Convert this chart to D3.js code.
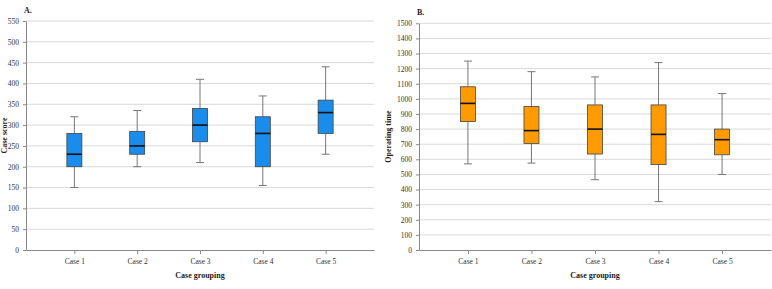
<!DOCTYPE html>
<html>
<head>
<meta charset="utf-8">
<script src="https://cdn.jsdelivr.net/npm/d3@7"></script>
<style>
  body { margin: 0; background: #fff; }
  svg text { font-family: "Liberation Serif", "Times New Roman", serif; }
  .grid line { stroke: #d9d9d9; stroke-width: 1; }
  .axis path, .axis line { stroke: #888; }
  .axis text { font-size: 7.5px; fill: #333; }
</style>
</head>
<body>
<div id="chart-area"></div>
<script>
// case groups shared by both panels
let cases = ["Case 1", "Case 2", "Case 3", "Case 4", "Case 5"];

// panel A: case score  (min, q1, median, q3, max)
let scoreMin = [150, 200, 210, 155, 230];
let scoreQ1 = [200, 230, 260, 200, 280];
let scoreMed = [230, 250, 300, 280, 330];
let scoreQ3 = [280, 285, 340, 320, 360];
let scoreMax = [320, 335, 410, 370, 440];
let scoreTicks = d3.range(0, 551, 50);

// panel B: operating time
let timeMin = [570, 575, 465, 320, 500];
let timeQ1 = [850, 705, 635, 565, 630];
let timeMed = [970, 790, 800, 765, 730];
let timeQ3 = [1080, 950, 960, 960, 800];
let timeMax = [1250, 1180, 1145, 1240, 1035];
let timeTicks = d3.range(0, 1501, 100);

let svg = d3.select("#chart-area").append("svg")
    .attr("width", 772)
    .attr("height", 289);

function drawPanel(cfg) {
    let g = svg.append("g")
        .attr("transform", "translate(" + cfg.left + ",0)");

    let w = cfg.width;

    let x = d3.scalePoint()
        .domain(cases)
        .range([0, w])
        .padding(0.77);

    let y = d3.scaleLinear()
        .domain([0, cfg.ticks[cfg.ticks.length - 1]])
        .range([250, cfg.top]);

    // gridlines
    g.append("g")
        .attr("class", "grid")
        .selectAll("line")
        .data(cfg.ticks.slice(1))
        .enter().append("line")
        .attr("x1", 0)
        .attr("x2", w)
        .attr("y1", d => y(d))
        .attr("y2", d => y(d));

    let yAxis = d3.axisLeft(y)
        .tickValues(cfg.ticks)
        .tickFormat(d3.format("d"))
        .tickSize(3)
        .tickSizeOuter(0);
    let xAxis = d3.axisBottom(x).tickSize(4).tickSizeOuter(0);

    g.append("g")
        .attr("class", "axis")
        .call(yAxis)
        .call(a => a.selectAll("text").attr("dx", "-1"));

    g.append("g")
        .attr("class", "axis")
        .attr("transform", "translate(0,250)")
        .call(xAxis)
        .call(a => a.selectAll("text").attr("dy", "0.9em"));

    let rows = cases.map((c, i) => ({
        c: c, min: cfg.min[i], q1: cfg.q1[i], med: cfg.med[i], q3: cfg.q3[i], max: cfg.max[i]
    }));

    let bw = 15;

    let box = g.selectAll(".box")
        .data(rows)
        .enter().append("g")
        .attr("class", "box");

    // whiskers
    box.append("line")
        .attr("x1", d => x(d.c)).attr("x2", d => x(d.c))
        .attr("y1", d => y(d.max)).attr("y2", d => y(d.q3))
        .attr("stroke", "#777");
    box.append("line")
        .attr("x1", d => x(d.c)).attr("x2", d => x(d.c))
        .attr("y1", d => y(d.q1)).attr("y2", d => y(d.min))
        .attr("stroke", "#777");
    box.append("line")
        .attr("x1", d => x(d.c) - 4).attr("x2", d => x(d.c) + 4)
        .attr("y1", d => y(d.max)).attr("y2", d => y(d.max))
        .attr("stroke", "#777");
    box.append("line")
        .attr("x1", d => x(d.c) - 4).attr("x2", d => x(d.c) + 4)
        .attr("y1", d => y(d.min)).attr("y2", d => y(d.min))
        .attr("stroke", "#777");

    box.append("rect")
        .attr("x", d => x(d.c) - bw / 2)
        .attr("y", d => y(d.q3))
        .attr("width", bw)
        .attr("height", d => y(d.q1) - y(d.q3))
        .attr("fill", cfg.color)
        .attr("stroke", "#444")
        .attr("stroke-width", 0.8);

    box.append("line")
        .attr("x1", d => x(d.c) - bw / 2).attr("x2", d => x(d.c) + bw / 2)
        .attr("y1", d => y(d.med)).attr("y2", d => y(d.med))
        .attr("stroke", "#111")
        .attr("stroke-width", 1.6);

    // labels
    g.append("text")
        .attr("x", -2)
        .attr("y", cfg.top - 8)
        .attr("font-size", 8)
        .attr("font-weight", "bold")
        .attr("fill", "#222")
        .text(cfg.title);

    g.append("text")
        .attr("transform", "translate(" + cfg.labelX + "," + ((250 + cfg.top) / 2) + ") rotate(-90)")
        .attr("text-anchor", "middle")
        .attr("font-size", 8)
        .attr("font-weight", "bold")
        .attr("fill", "#222")
        .text(cfg.ylabel);

    g.append("text")
        .attr("x", w / 2)
        .attr("y", 278)
        .attr("text-anchor", "middle")
        .attr("font-size", 8)
        .attr("font-weight", "bold")
        .attr("fill", "#222")
        .text("Case grouping");
}

drawPanel({
    left: 26, width: 348, top: 21, ticks: scoreTicks,
    min: scoreMin, q1: scoreQ1, med: scoreMed, q3: scoreQ3, max: scoreMax,
    color: "#1a8ceb", title: "A.", ylabel: "Case score", labelX: -19
});

drawPanel({
    left: 419, width: 352, top: 23.3, ticks: timeTicks,
    min: timeMin, q1: timeQ1, med: timeMed, q3: timeQ3, max: timeMax,
    color: "#ff9a00", title: "B.", ylabel: "Operating time", labelX: -28
});
</script>
</body>
</html>
